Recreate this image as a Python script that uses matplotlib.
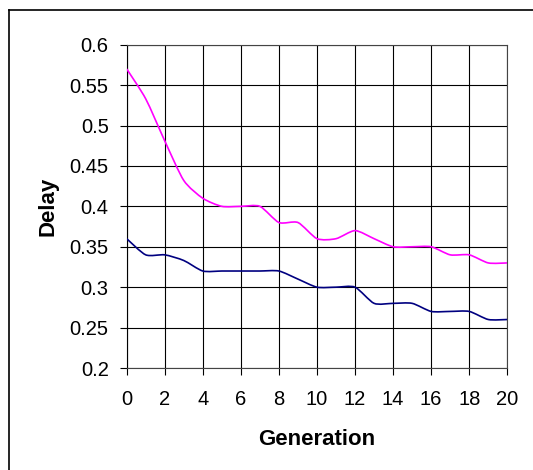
import matplotlib.pyplot as plt
import numpy as np
from matplotlib.path import Path
from matplotlib.patches import PathPatch
from matplotlib.lines import Line2D

plt.rcParams['font.family'] = ['Liberation Sans', 'DejaVu Sans']

generation = list(range(0, 21))
delay_pink = [0.57, 0.533, 0.481, 0.432, 0.41, 0.40, 0.40, 0.40, 0.38, 0.38, 0.36,
              0.36, 0.37, 0.36, 0.35, 0.35, 0.35, 0.34, 0.34, 0.33, 0.33]
delay_blue = [0.36, 0.34, 0.34, 0.333, 0.32, 0.32, 0.32, 0.32, 0.32, 0.31, 0.30,
              0.30, 0.30, 0.28, 0.28, 0.28, 0.27, 0.27, 0.27, 0.26, 0.26]
xticks = list(range(0, 21, 2))
yticks = [0.2, 0.25, 0.3, 0.35, 0.4, 0.45, 0.5, 0.55, 0.6]


def smooth_path(x, y, t=0.12):
    # excel-like smoothed line: cubic bezier through the points
    x = np.asarray(x, float)
    y = np.asarray(y, float)
    verts = [(x[0], y[0])]
    codes = [Path.MOVETO]
    n = len(x)
    for i in range(n - 1):
        p0 = i - 1 if i > 0 else i
        p3 = i + 2 if i + 2 < n else i + 1
        c1 = (x[i] + (x[i + 1] - x[p0]) * t, y[i] + (y[i + 1] - y[p0]) * t)
        c2 = (x[i + 1] - (x[p3] - x[i]) * t, y[i + 1] - (y[p3] - y[i]) * t)
        verts += [c1, c2, (x[i + 1], y[i + 1])]
        codes += [Path.CURVE4] * 3
    return Path(verts, codes)


fig = plt.figure(figsize=(5.33, 4.70), dpi=100)
ax = fig.add_axes([0.2377, 0.217, 0.9518 - 0.2377, 0.9049 - 0.217])

ax.add_patch(PathPatch(smooth_path(generation, delay_pink), facecolor='none',
                       edgecolor='#FF00FF', lw=1.2, zorder=3))
ax.add_patch(PathPatch(smooth_path(generation, delay_blue), facecolor='none',
                       edgecolor='#000080', lw=1.2, zorder=3))

ax.set_xlim(0, 20)
ax.set_ylim(0.2, 0.6)
ax.set_xticks(xticks)
ax.set_yticks(yticks)
ax.set_yticklabels([('%g' % v) for v in yticks])
ax.grid(True, color='black', lw=0.8)
ax.set_axisbelow(True)
for s in ax.spines.values():
    s.set_color('#444444')
    s.set_linewidth(0.8)
ax.spines['left'].set_color('black')
ax.tick_params(axis='both', labelsize=14.5, direction='out', length=5, width=0.8, color='black')
ax.tick_params(axis='x', pad=11)
ax.tick_params(axis='y', pad=8)
ax.set_xlabel('Generation', fontsize=16, fontweight='bold', labelpad=14)
ax.set_ylabel('Delay', fontsize=16, fontweight='bold', labelpad=8)

# outer chart frame (top and left edges visible)
fig.add_artist(Line2D([9 / 533, 9 / 533], [0, 1 - 10 / 470], color='black', lw=1.2,
                      transform=fig.transFigure))
fig.add_artist(Line2D([9 / 533, 1], [1 - 10 / 470, 1 - 10 / 470], color='black', lw=1.2,
                      transform=fig.transFigure))

plt.savefig('out.png', dpi=100)
